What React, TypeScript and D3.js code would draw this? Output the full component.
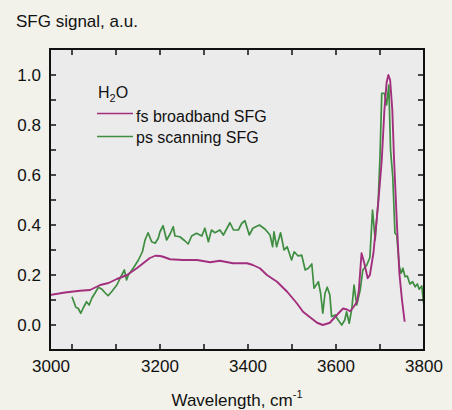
import React from 'react';
import * as d3 from 'd3';

// fs broadband SFG (magenta)
const fsWave = [2950, 2984, 3018, 3041, 3064, 3083, 3102, 3125, 3148, 3177, 3189, 3200, 3207, 3223, 3252, 3284, 3314, 3336, 3366, 3398, 3411, 3427, 3443, 3466, 3489, 3511, 3525, 3541, 3557, 3570, 3586, 3602, 3616, 3625, 3632, 3639, 3648, 3652, 3658, 3664, 3672, 3677, 3685, 3696, 3704, 3710, 3715, 3719, 3723, 3728, 3732, 3738, 3744, 3750, 3756];
const fsSignal = [0.12, 0.13, 0.137, 0.14, 0.16, 0.168, 0.184, 0.2, 0.228, 0.268, 0.277, 0.276, 0.273, 0.263, 0.26, 0.26, 0.251, 0.257, 0.247, 0.247, 0.24, 0.227, 0.2, 0.173, 0.133, 0.087, 0.053, 0.031, 0.009, 0.0, 0.009, 0.04, 0.066, 0.062, 0.055, 0.07, 0.093, 0.14, 0.287, 0.25, 0.187, 0.2, 0.287, 0.487, 0.66, 0.86, 0.97, 1.0, 0.98, 0.86, 0.66, 0.42, 0.207, 0.1, 0.013];

// ps scanning SFG (green)
const psWave = [3000, 3009, 3014, 3020, 3026, 3033, 3039, 3045, 3052, 3060, 3068, 3075, 3082, 3090, 3102, 3111, 3119, 3124, 3128, 3139, 3151, 3160, 3166, 3173, 3181, 3189, 3196, 3200, 3207, 3215, 3223, 3230, 3234, 3245, 3257, 3264, 3272, 3283, 3295, 3302, 3310, 3317, 3325, 3336, 3344, 3359, 3367, 3378, 3386, 3393, 3403, 3411, 3426, 3439, 3450, 3456, 3459, 3465, 3474, 3482, 3489, 3499, 3505, 3514, 3522, 3530, 3537, 3545, 3550, 3560, 3565, 3570, 3575, 3580, 3586, 3590, 3598, 3605, 3613, 3620, 3624, 3630, 3636, 3641, 3647, 3655, 3661, 3670, 3677, 3683, 3689, 3696, 3700, 3704, 3710, 3715, 3720, 3724, 3729, 3734, 3738, 3744, 3748, 3752, 3757, 3762, 3768, 3774, 3780, 3785, 3789, 3795, 3799];
const psSignal = [0.113, 0.07, 0.067, 0.047, 0.07, 0.093, 0.08, 0.107, 0.127, 0.151, 0.143, 0.129, 0.117, 0.133, 0.16, 0.193, 0.22, 0.18, 0.2, 0.227, 0.26, 0.293, 0.34, 0.369, 0.333, 0.327, 0.347, 0.373, 0.397, 0.34, 0.364, 0.393, 0.356, 0.353, 0.336, 0.324, 0.356, 0.367, 0.356, 0.387, 0.333, 0.38, 0.369, 0.38, 0.36, 0.409, 0.38, 0.38, 0.407, 0.417, 0.36, 0.387, 0.4, 0.383, 0.36, 0.313, 0.373, 0.313, 0.369, 0.3, 0.313, 0.26, 0.293, 0.276, 0.28, 0.22, 0.227, 0.244, 0.147, 0.173, 0.127, 0.047, 0.127, 0.151, 0.12, 0.033, 0.04, 0.02, 0.0, 0.02, 0.053, 0.007, 0.067, 0.16, 0.08, 0.14, 0.22, 0.24, 0.27, 0.46, 0.34, 0.5, 0.673, 0.927, 0.927, 0.88, 0.96, 0.7, 0.593, 0.367, 0.36, 0.233, 0.207, 0.227, 0.193, 0.196, 0.164, 0.173, 0.153, 0.164, 0.143, 0.156, 0.087];

const xMajor = [3000, 3200, 3400, 3600, 3800];
const xTickLabels = ['3000', '3200', '3400', '3600', '3800'];
const yMajor = [0, 0.2, 0.4, 0.6, 0.8, 1.0];
const yTickLabels = ['0.0', '0.2', '0.4', '0.6', '0.8', '1.0'];
const legendLabels = ['fs broadband SFG', 'ps scanning SFG'];
const colors = ['#a22f7d', '#3e8d41'];

const font = 'Liberation Sans, Arial, Helvetica, sans-serif';

export default function App() {
  const W = 452, H = 410;
  const left = 50, right = 424, top = 49, bottom = 350;

  const x = d3.scaleLinear().domain([2950, 3800]).range([left, right]);
  const y = d3.scaleLinear().domain([-0.1, 1.104]).range([bottom, top]);

  const fsPts = fsWave.map((w, i) => [w, fsSignal[i]] as [number, number]);
  const psPts = psWave.map((w, i) => [w, psSignal[i]] as [number, number]);
  const line = d3.line<[number, number]>().x(d => x(d[0])).y(d => y(d[1]));

  const xTicks = d3.range(3000, 3800, 100);
  const yTicks = d3.range(0, 10.5, 1).map(v => v / 10);
  const tk = 6;

  return (
    <div style={{ position: 'absolute', left: 0, top: 0 }}>
      <svg width={W} height={H} style={{ display: 'block' }}>
        <rect x={0} y={0} width={W} height={H} fill="#f2f1ea" />
        <text x={16} y={26.5} fontFamily={font} fontSize={17} fill="#111">SFG signal, a.u.</text>

        <rect x={left} y={top} width={right - left} height={bottom - top} fill="#ebebeb" />

        <path d={line(psPts) || ''} fill="none" stroke={colors[1]} strokeWidth={1.7} strokeLinejoin="round" />
        <path d={line(fsPts) || ''} fill="none" stroke={colors[0]} strokeWidth={1.9} strokeLinejoin="round" />

        {xTicks.map(t => (
          <g key={'xt' + t} stroke="#111" strokeWidth={1.5}>
            <line x1={x(t)} x2={x(t)} y1={bottom} y2={bottom - tk} />
            <line x1={x(t)} x2={x(t)} y1={top} y2={top + tk} />
          </g>
        ))}
        {yTicks.map(t => (
          <g key={'yt' + t} stroke="#111" strokeWidth={1.5}>
            <line x1={left} x2={left + tk} y1={y(t)} y2={y(t)} />
            <line x1={right} x2={right - tk} y1={y(t)} y2={y(t)} />
          </g>
        ))}
        <rect x={left} y={top} width={right - left} height={bottom - top} fill="none" stroke="#111" strokeWidth={2} />

        {xMajor.map((t, i) => (
          // the 3000 label sits at the frame edge in the original
          <text key={'xl' + t} x={i === 0 ? left + 1 : x(t)} y={371.5} textAnchor="middle"
            fontFamily={font} fontSize={17} fill="#111">{xTickLabels[i]}</text>
        ))}
        {yMajor.map((t, i) => (
          <text key={'yl' + t} x={41} y={y(t) + 6} textAnchor="end"
            fontFamily={font} fontSize={17} fill="#111">{yTickLabels[i]}</text>
        ))}

        <text x={171.5} y={406} fontFamily={font} fontSize={17} fill="#111">
          Wavelength, cm<tspan fontSize={11} dy={-8}>-1</tspan>
        </text>

        <text x={98} y={97.7} fontFamily={font} fontSize={16} fill="#111">
          H<tspan fontSize={11} dy={4}>2</tspan><tspan dy={-4}>O</tspan>
        </text>
        {legendLabels.map((lab, i) => (
          <g key={lab}>
            <line x1={97} x2={133} y1={113.5 + i * 23} y2={113.5 + i * 23} stroke={colors[i]} strokeWidth={1.3} />
            <text x={136} y={121.7 + i * 21} fontFamily={font} fontSize={16} fill="#111">{lab}</text>
          </g>
        ))}
      </svg>
    </div>
  );
}
